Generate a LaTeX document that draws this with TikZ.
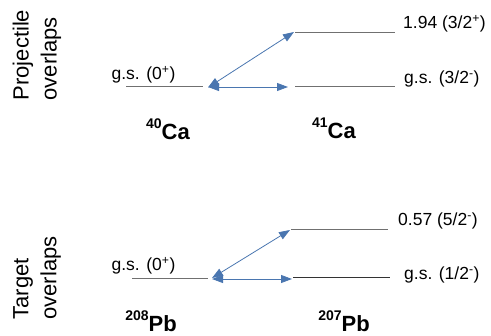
\documentclass[tikz,border=0pt]{standalone}
\usepackage{fontspec}
\setmainfont{Liberation Sans}
\usetikzlibrary{arrows.meta}
\definecolor{arrowblue}{HTML}{4A76B0}
\definecolor{levelgray}{HTML}{707070}
\newcommand{\nsup}[1]{\raisebox{0.5em}{\fontsize{14}{15}\selectfont\bfseries #1}}
\begin{document}
\begin{tikzpicture}[x=1pt,y=-1pt,
  level/.style={draw=levelgray,line width=1pt},
  trans/.style={draw=arrowblue,line width=0.8pt,{Triangle[length=11pt,width=8pt]}-{Triangle[length=11pt,width=8pt]}},
  statelab/.style={font=\fontsize{17.5}{20}\selectfont,inner sep=0pt},
  nuclab/.style={font=\fontsize{22}{24}\selectfont\bfseries,inner sep=0pt},
  sidelab/.style={font=\fontsize{22}{28}\selectfont,rotate=90,align=left,inner sep=0pt}]
\useasboundingbox (0,0) rectangle (491,336);
% side labels
\node[sidelab] (p) at (37,55) {Projectile\\overlaps};
\node[sidelab] (t) at (37,278) {Target\\overlaps};
% projectile levels
\coordinate (ca40a) at (126,87); \coordinate (ca40b) at (203,87);
\coordinate (ca41ea) at (295,33); \coordinate (ca41eb) at (395,33);
\coordinate (ca41ga) at (295,87); \coordinate (ca41gb) at (395,87);
\draw[level] (ca40a) -- (ca40b);
\draw[level] (ca41ea) -- (ca41eb);
\draw[level] (ca41ga) -- (ca41gb);
\coordinate (pt1) at (208,87.5);
\coordinate (pt2) at (208,87);
\coordinate (pe) at (294,32);
\coordinate (pg) at (288,87);
\draw[trans] (pt1) -- (pe);
\draw[trans] (pt2) -- (pg);
\node[statelab] (gs40) at (143.5,75) {g.s. (0\textsuperscript{+})};
\node[statelab,anchor=west] (e41) at (403,24) {1.94 (3/2\textsuperscript{+})};
\node[statelab,anchor=west] (g41) at (404,79) {g.s. (3/2\textsuperscript{-})};
\node[nuclab] (n40) at (168,129) {\nsup{40}Ca};
\node[nuclab] (n41) at (334,128) {\nsup{41}Ca};
% target levels
\coordinate (pb208a) at (132,279); \coordinate (pb208b) at (208,279);
\coordinate (pb207ea) at (291,230); \coordinate (pb207eb) at (388,230);
\coordinate (pb207ga) at (293,278); \coordinate (pb207gb) at (390,278);
\draw[level] (pb208a) -- (pb208b);
\draw[level] (pb207ea) -- (pb207eb);
\draw[level,draw=black!80] (pb207ga) -- (pb207gb);
\coordinate (tt1) at (212,278);
\coordinate (tt2) at (212,279);
\coordinate (te) at (290,230);
\coordinate (tg) at (292,279);
\draw[trans] (tt1) -- (te);
\draw[trans] (tt2) -- (tg);
\node[statelab] (gs208) at (143.5,266) {g.s. (0\textsuperscript{+})};
\node[statelab,anchor=west] (e207) at (398,221) {0.57 (5/2\textsuperscript{-})};
\node[statelab,anchor=west] (g207) at (404,275) {g.s. (1/2\textsuperscript{-})};
\node[nuclab] (n208) at (151,321) {\nsup{208}Pb};
\node[nuclab] (n207) at (344,321) {\nsup{207}Pb};
\end{tikzpicture}
\end{document}
